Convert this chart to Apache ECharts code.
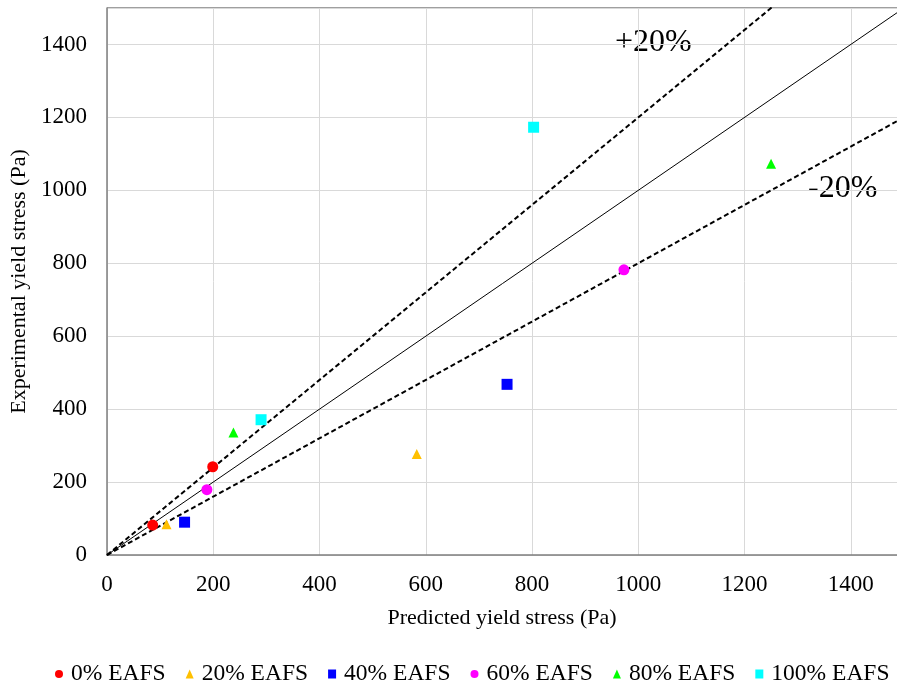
<!DOCTYPE html>
<html>
<head>
<meta charset="utf-8">
<script src="https://cdn.jsdelivr.net/npm/echarts@6/dist/echarts.min.js"></script>
<style>
  html, body { margin: 0; padding: 0; background: #fff; }
  #chart { width: 897px; height: 685px; }
</style>
</head>
<body>
<div id="chart"></div>
<script>
// series names and their markers
const seriesNames = ['0% EAFS', '20% EAFS', '40% EAFS', '60% EAFS', '80% EAFS', '100% EAFS']
const seriesColors = ['#ff0000', '#ffc000', '#0000ff', '#ff00ff', '#00ff00', '#00ffff']
const seriesSymbols = ['circle', 'triangle', 'rect', 'circle', 'triangle', 'rect']

// [predicted, experimental] pairs
const eafs0 = [[86, 82], [199, 242]]
const eafs20 = [[112, 84], [583, 277]]
const eafs40 = [[146, 90], [753, 468]]
const eafs60 = [[188, 179], [973, 782]]
const eafs80 = [[238, 336], [1250, 1073]]
const eafs100 = [[290, 371], [803, 1173]]
const seriesData = [eafs0, eafs20, eafs40, eafs60, eafs80, eafs100]

// reference lines y = k * x
const lineRange = [0, 1500]
const lineRatios = [1, 1.2, 0.8]

const font = 'Liberation Serif'
const chart = echarts.init(document.getElementById('chart'))

const scatterSeries = seriesNames.map((name, i) => ({
  type: 'scatter',
  name: name,
  data: seriesData[i],
  symbol: seriesSymbols[i],
  symbolSize: seriesSymbols[i] === 'triangle' ? 10 : 11,
  itemStyle: { color: seriesColors[i], opacity: 1 },
  z: 5
}))

const lineSeries = lineRatios.map(k => ({
  type: 'line',
  name: 'y=' + k + 'x',
  data: lineRange.map(x => [x, x * k]),
  symbol: 'none',
  clip: true,
  silent: true,
  lineStyle: k === 1
    ? { color: '#000', width: 1, type: 'solid' }
    : { color: '#000', width: 2, type: [5, 3] },
  z: 3
}))

chart.setOption({
  animation: false,
  grid: {
    left: 107,
    top: 8,
    right: 0,
    bottom: 130,
    containLabel: false,
    outerBoundsMode: 'none'
  },
  legend: {
    data: seriesNames,
    top: 657,
    left: 50,
    itemWidth: 8,
    itemHeight: 9,
    itemGap: 20,
    textStyle: { fontFamily: font, fontSize: 23.5, color: '#000', padding: [0, 0, 0, 3] }
  },
  xAxis: {
    type: 'value',
    min: 0,
    max: 1487,
    interval: 200,
    name: 'Predicted yield stress (Pa)',
    nameLocation: 'middle',
    nameGap: 52,
    nameTextStyle: { fontFamily: font, fontSize: 22, color: '#000' },
    axisLine: { lineStyle: { color: '#7f7f7f', width: 1.5 } },
    axisTick: { show: false },
    axisLabel: { fontFamily: font, fontSize: 23, color: '#000', margin: 18, showMaxLabel: false, formatter: v => String(v) },
    splitLine: { lineStyle: { color: '#d9d9d9' } }
  },
  yAxis: {
    type: 'value',
    min: 0,
    max: 1500,
    interval: 200,
    name: 'Experimental yield stress (Pa)',
    nameLocation: 'middle',
    nameGap: 73,
    nameTextStyle: { fontFamily: font, fontSize: 22, color: '#000' },
    axisLine: { show: true, lineStyle: { color: '#7f7f7f', width: 1.5 } },
    axisTick: { show: false },
    axisLabel: { fontFamily: font, fontSize: 23, color: '#000', margin: 20, showMaxLabel: false, formatter: v => String(v) },
    splitLine: { lineStyle: { color: '#d9d9d9' } }
  },
  graphic: [
    {
      type: 'line',
      shape: { x1: 107, y1: 8, x2: 897, y2: 8 },
      style: { stroke: '#7f7f7f', lineWidth: 1.5 }
    },
    {
      type: 'text',
      left: 615,
      top: 27,
      style: { text: '+20%', font: '32px "Liberation Serif"', fill: '#000' }
    },
    {
      type: 'text',
      left: 808,
      top: 173,
      style: { text: '-20%', font: '32px "Liberation Serif"', fill: '#000' }
    }
  ],
  series: [...lineSeries, ...scatterSeries]
})
</script>
</body>
</html>
